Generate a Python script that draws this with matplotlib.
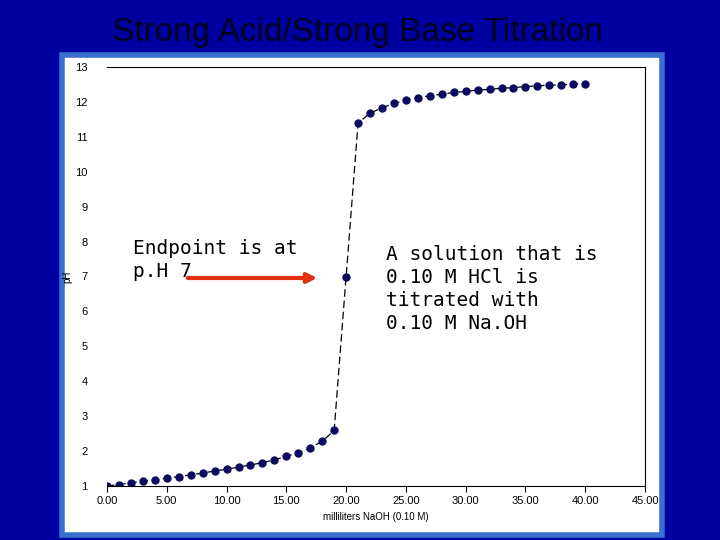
import matplotlib

matplotlib.use("Agg", force=True)
import matplotlib.pyplot as plt
from matplotlib.patches import Rectangle, FancyArrowPatch

ml_naoh = list(range(0, 41))
ph = [1.00, 1.04, 1.09, 1.14, 1.18, 1.22, 1.27, 1.32, 1.37, 1.43,
      1.48, 1.54, 1.60, 1.67, 1.75, 1.85, 1.95, 2.09, 2.28, 2.59,
      7.00,
      11.39, 11.68, 11.83, 11.96, 12.05, 12.12, 12.18, 12.22, 12.27, 12.30,
      12.34, 12.36, 12.39, 12.41, 12.44, 12.46, 12.48, 12.49, 12.51, 12.52]
x_ticks = [0, 5, 10, 15, 20, 25, 30, 35, 40, 45]
y_ticks = list(range(1, 14))

W, H = 720, 540
fig = plt.figure(figsize=(7.2, 5.4), dpi=100)
fig.patch.set_facecolor("#0000a0")

# white panel with light blue border, on a background axes
bg = fig.add_axes([0, 0, 1, 1], zorder=-1)
bg.axis("off")
bg.set_xlim(0, W)
bg.set_ylim(H, 0)
bg.add_patch(Rectangle((62, 55), 600, 480, facecolor="white", edgecolor="#3a6fd0", linewidth=4))

fig.text(0.497, 1 - 32 / H, "Strong Acid/Strong Base Titration", ha="center", va="center",
         fontsize=24, color="#000020", family="Liberation Sans")

ax = fig.add_axes([107 / W, 1 - 486 / H, 538 / W, 419 / H])
ax.patch.set_alpha(0)
ax.plot(ml_naoh, ph, color="black", linestyle=(0, (6, 3)), linewidth=0.9,
        marker="o", markersize=5, markerfacecolor="#0a0a60", markeredgecolor="#0a0a60")
ax.set_xlim(0, 45)
ax.set_ylim(1, 13)
ax.set_xticks(x_ticks)
ax.set_xticklabels([f"{v:.2f}" for v in x_ticks], fontsize=8, family="Liberation Sans")
ax.set_yticks(y_ticks)
ax.set_yticklabels([str(v) for v in y_ticks], fontsize=8, family="Liberation Sans")
ax.spines["left"].set_visible(False)
ax.tick_params(axis="y", length=0, pad=14)
ax.tick_params(axis="x", length=4)
ax.set_xlabel("milliliters NaOH (0.10 M)", fontsize=7, family="Liberation Sans")
ax.set_ylabel("pH", fontsize=7, family="Liberation Sans", labelpad=2)

fig.text(133 / W, 1 - 260 / H, "Endpoint is at\np.H 7", fontsize=14, va="center",
         family="DejaVu Sans Mono", linespacing=1.25)
fig.text(386 / W, 1 - 289 / H, "A solution that is\n0.10 M HCl is\ntitrated with\n0.10 M Na.OH",
         fontsize=14, va="center", family="DejaVu Sans Mono", linespacing=1.25)
fig.patches.append(FancyArrowPatch(
    (185 / W, 1 - 278 / H), (320 / W, 1 - 278 / H), transform=fig.transFigure,
    arrowstyle="-|>", mutation_scale=14, color="#e03010", linewidth=3))

fig.savefig("out.png", dpi=100, facecolor=fig.get_facecolor())
